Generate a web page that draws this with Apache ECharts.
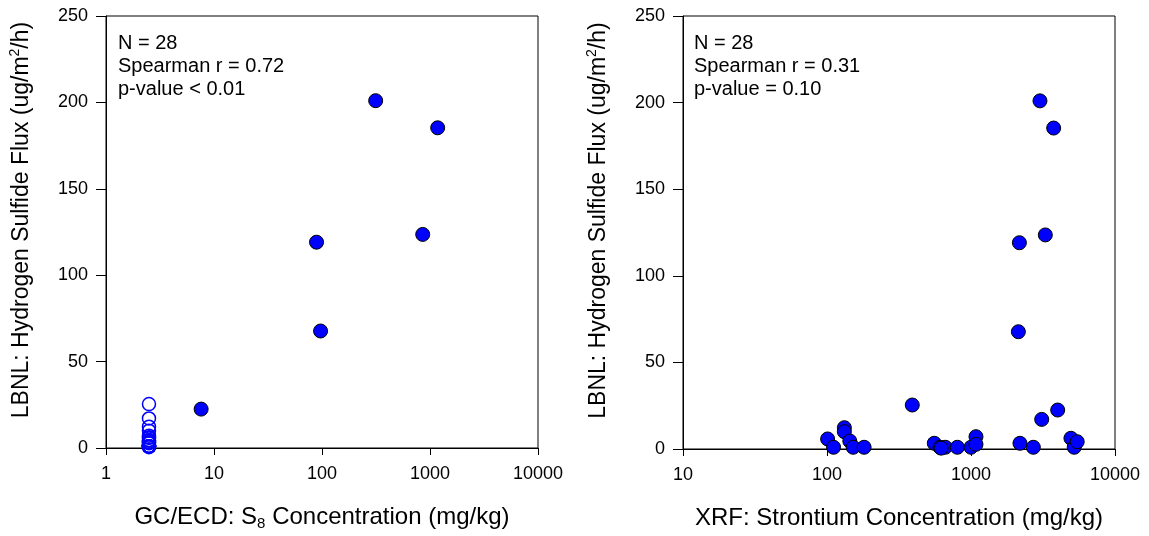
<!DOCTYPE html>
<html>
<head>
<meta charset="utf-8">
<script src="https://cdn.jsdelivr.net/npm/echarts@6/dist/echarts.min.js"></script>
<style>
html,body{margin:0;padding:0;background:#fff;}
#chart{width:1149px;height:536px;}
</style>
</head>
<body>
<div id="chart"></div>
<script>
// ---- Data ----
// Left panel: GC/ECD S8 concentration (mg/kg) vs flux
const s8DetectedConc = [314, 1178, 89, 856, 97, 7.6];
const s8DetectedFlux = [201, 185.3, 119.1, 123.6, 67.7, 22.5];
const s8NonDetectConc = [2.5, 2.5, 2.5, 2.5, 2.5, 2.5, 2.5, 2.5, 2.5, 2.5, 2.5,
                         2.5, 2.5, 2.5, 2.5, 2.5, 2.5, 2.5, 2.5, 2.5, 2.5, 2.5];
const s8NonDetectFlux = [25.4, 17.1, 12.3, 10.0, 5.8, 1.0, 4.6, 1.0, 1.0, 3.3, 1.0,
                         1.0, 1.0, 1.0, 7.1, 2.7, 3.3, 1.0, 6.2, 1.0, 4.2, 0.5];
// Right panel: XRF strontium concentration (mg/kg) vs flux
const srConc = [3013, 3750, 2168, 3281, 2133, 4000,
                391, 3097, 132, 132, 101, 111, 144, 152, 181, 556, 609,
                663, 804, 1000, 1083, 1083, 2188, 2709, 4943, 5209, 5465, 620];
const srFlux = [201, 185.3, 119.1, 123.6, 67.7, 22.5,
                25.4, 17.1, 12.3, 10.0, 5.8, 1.0, 4.6, 1.0, 1.0, 3.3, 1.0,
                1.0, 1.0, 1.0, 7.1, 2.7, 3.3, 1.0, 6.2, 1.0, 4.2, 0.5];
const yTicks = [0, 50, 100, 150, 200, 250];
const leftStats = ['N = 28', 'Spearman r = 0.72', 'p-value < 0.01'];
const rightStats = ['N = 28', 'Spearman r = 0.31', 'p-value = 0.10'];

const zip = (a, b) => a.map((v, i) => [v, b[i]]);

const FONT = "'Liberation Sans', Arial, sans-serif";
const chart = echarts.init(document.getElementById('chart'), null, {renderer: 'canvas'});

const yTitle = '{t|LBNL: Hydrogen Sulfide Flux (ug/m}{sup|2}{t|/h)}';
const richY = {
  t: {fontSize: 23, fontFamily: FONT, color: '#000', lineHeight: 28},
  sup: {fontSize: 14, fontFamily: FONT, color: '#000', lineHeight: 12, verticalAlign: 'top'}
};
const richX = {
  t: {fontSize: 24, fontFamily: FONT, color: '#000', lineHeight: 28},
  sub: {fontSize: 15, fontFamily: FONT, color: '#000', lineHeight: 8, verticalAlign: 'bottom'}
};

function xAxis(gridIndex, min, name) {
  return {
    type: 'log', logBase: 10, gridIndex, min, max: 10000,
    name, nameLocation: 'middle', nameGap: 55,
    nameTextStyle: {rich: richX},
    axisLine: {show: true, lineStyle: {color: '#000', width: 1}},
    axisTick: {show: true, inside: false, length: 7, lineStyle: {color: '#000'}},
    minorTick: {show: false},
    splitLine: {show: false},
    axisLabel: {fontSize: 18, fontFamily: FONT, color: '#000', margin: 17,
      formatter: v => String(Math.round(v))}
  };
}
function yAxis(gridIndex) {
  return {
    type: 'value', gridIndex, min: yTicks[0], max: yTicks[yTicks.length - 1],
    interval: yTicks[1] - yTicks[0],
    name: yTitle, nameLocation: 'middle', nameGap: 70,
    nameTextStyle: {rich: richY, padding: [0, 0, 0, 24]},
    axisLine: {show: true, lineStyle: {color: '#000', width: 1}},
    axisTick: {show: true, inside: false, length: 10, lineStyle: {color: '#000'}},
    splitLine: {show: false},
    axisLabel: {fontSize: 18, fontFamily: FONT, color: '#000', margin: 18}
  };
}

const filledStyle = {color: '#0000FF', borderColor: '#000', borderWidth: 1, opacity: 1};
const openStyle = {color: 'rgba(255,255,255,0)', borderColor: '#0000FF', borderWidth: 1.5, opacity: 1};

function statsText(left, lines) {
  return {
    type: 'text', left, top: 32, z: 100,
    style: {text: lines.join('\n'), font: '20px ' + FONT, fill: '#000', lineHeight: 23}
  };
}

chart.setOption({
  animation: false,
  backgroundColor: '#fff',
  grid: [
    {left: 106, top: 16, width: 432, height: 433, show: true, borderColor: '#000', borderWidth: 1, backgroundColor: 'transparent'},
    {left: 683, top: 16, width: 432, height: 433, show: true, borderColor: '#000', borderWidth: 1, backgroundColor: 'transparent'}
  ],
  xAxis: [
    xAxis(0, 1, '{t|GC/ECD: S}{sub|8}{t| Concentration (mg/kg)}'),
    xAxis(1, 10, '{t|XRF: Strontium Concentration (mg/kg)}')
  ],
  yAxis: [yAxis(0), yAxis(1)],
  series: [
    {type: 'scatter', xAxisIndex: 0, yAxisIndex: 0, symbol: 'circle', symbolSize: 13,
      itemStyle: openStyle, data: zip(s8NonDetectConc, s8NonDetectFlux)},
    {type: 'scatter', xAxisIndex: 0, yAxisIndex: 0, symbol: 'circle', symbolSize: 14,
      itemStyle: filledStyle, data: zip(s8DetectedConc, s8DetectedFlux)},
    {type: 'scatter', xAxisIndex: 1, yAxisIndex: 1, symbol: 'circle', symbolSize: 14,
      itemStyle: filledStyle, data: zip(srConc, srFlux)}
  ],
  graphic: [statsText(118, leftStats), statsText(694, rightStats)]
});
</script>
</body>
</html>
